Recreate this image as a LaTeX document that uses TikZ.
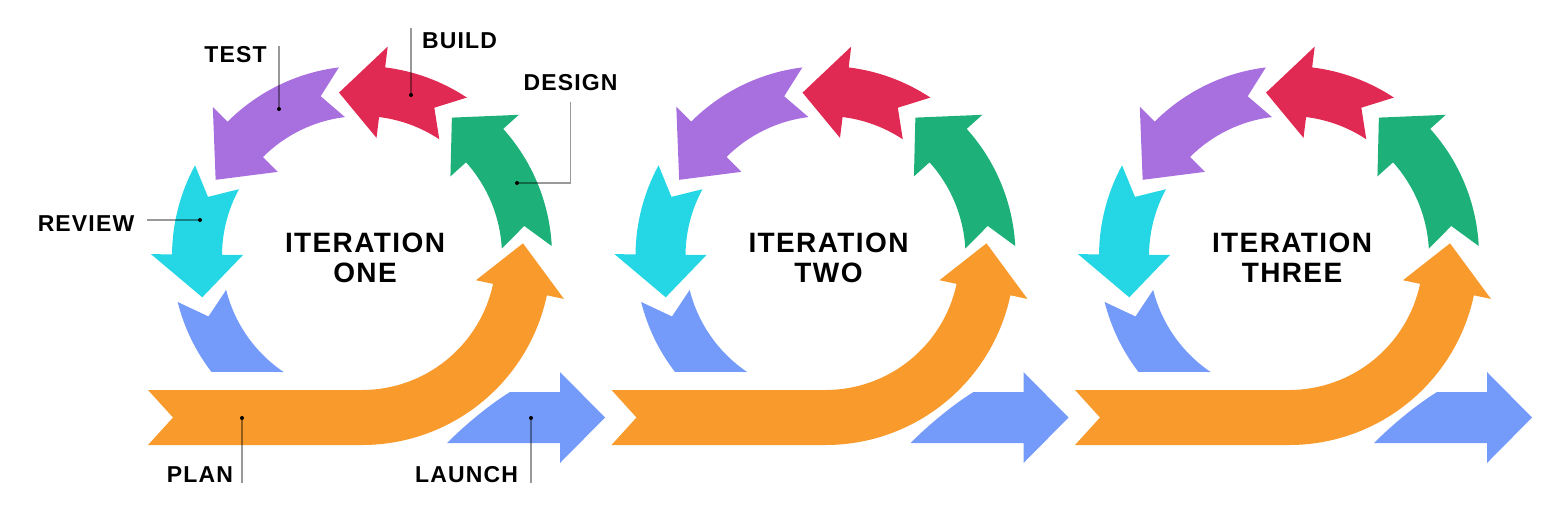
\documentclass[tikz,border=0pt]{standalone}
\usepackage{fontspec}
\newfontfamily\lblfont[LetterSpace=5]{Liberation Sans}
\usetikzlibrary{calc}

\definecolor{planorange}{HTML}{F89A2C}
\definecolor{designgreen}{HTML}{1DB079}
\definecolor{buildred}{HTML}{E12A53}
\definecolor{testpurple}{HTML}{A870DF}
\definecolor{reviewcyan}{HTML}{25D6E4}
\definecolor{launchblue}{HTML}{759BFA}

% ring geometry (pt)
\def\ringin{140}
\def\ringout{190}
\def\ringmid{165}
\def\headhw{46}
\def\notchdeg{7.5}

% one curved arrow of the ring: colour, tail angle, head base angle, tip angle
\newcommand{\ringarrow}[4]{%
  \fill[#1] (#2:\ringout) arc[start angle=#2, end angle=#3, radius=\ringout]
    -- ({#3}:{\ringmid+\headhw}) -- ({#4}:\ringmid) -- ({#3}:{\ringmid-\headhw})
    -- (#3:\ringin) arc[start angle=#3, end angle=#2, radius=\ringin]
    -- ({#2+\notchdeg}:\ringmid) -- cycle;}

\begin{document}
\begin{tikzpicture}[
  x=1pt, y=1pt,
  callout/.style = {draw=black, draw opacity=0.4, line width=1.5pt},
  tag/.style     = {font=\lblfont\bfseries\fontsize{23}{27}\selectfont,
                    inner sep=0pt},
  title/.style   = {font=\lblfont\bfseries\fontsize{28}{30}\selectfont,
                    align=center, inner sep=0pt},
]
\useasboundingbox (0,0) rectangle (1554,-520);

% ===== Three iterations, centred on the ring =====
\foreach \k/\word in {0/ONE,1/TWO,2/THREE} {
  \begin{scope}[shift={(362+463.5*\k,-256)}]
    % plan: straight band turning up into the ring
    \fill[planorange] (-214,-134) -- (0,-134)
      arc[start angle=-90, end angle=-12, radius=134]
      -- (-12:116.5) -- (4.5:161.5) -- (-12:206.5) -- (-12:189)
      arc[start angle=-12, end angle=-90, radius=189]
      -- (-214,-189) -- (-189,-161.5) -- cycle;
    \ringarrow{designgreen}{3}{42}{57}
    \ringarrow{buildred}{56.5}{83}{98}
    \ringarrow{testpurple}{97}{135}{152.5}
    \ringarrow{reviewcyan}{151.5}{179.5}{194.5}
    % lower left segment, cut flat at the bottom
    \fill[launchblue] (194:190) arc[start angle=194, end angle=217.6, radius=190]
      -- (235.95:140) arc[start angle=235.95, end angle=194, radius=140]
      -- (201.5:165) -- cycle;
    % launch
    \fill[launchblue] (85,-187) -- (198,-187) -- (198,-207) -- (243,-161.5)
      -- (198,-116) -- (198,-136) -- (148,-136)
      .. controls (127,-149) and (103,-169) .. (85,-187) -- cycle;
    \node[title] (iter\k) at (3,-1.5) {ITERATION\\\word};
  \end{scope}
}

% ===== Phase labels (first iteration) =====
\node[tag] (lbltest)   at (235.5,-54.5) {TEST};
\node[tag] (lblbuild)  at (459.5,-41)   {BUILD};
\node[tag] (lbldesign) at (570.5,-83)   {DESIGN};
\node[tag] (lblreview) at (86,-223.5)   {REVIEW};
\node[tag] (lblplan)   at (200,-475)    {PLAN};
\node[tag] (lbllaunch) at (466.5,-475)  {LAUNCH};

\coordinate (testdot)   at (279,-109);
\coordinate (builddot)  at (411,-95);
\coordinate (designdot) at (517,-183);
\coordinate (reviewdot) at (200,-220);
\coordinate (plandot)   at (242,-418);
\coordinate (launchdot) at (531,-418);

% ===== Callout lines =====
\draw[callout] (lbltest.north -| testdot) -- (testdot);
\draw[callout] ($(lblbuild.north -| builddot)+(0,5)$) -- (builddot);
\draw[callout] ($(lbldesign.south)+(0,-11)$) |- (designdot);
\draw[callout] ($(reviewdot -| lblreview.east)+(13,0)$) -- (reviewdot);
\draw[callout] (plandot) -- (plandot |- lblplan.south);
\draw[callout] (launchdot) -- (launchdot |- lbllaunch.south);
\foreach \d in {testdot,builddot,designdot,reviewdot,plandot,launchdot}
  \fill (\d) circle (2);

\end{tikzpicture}
\end{document}
